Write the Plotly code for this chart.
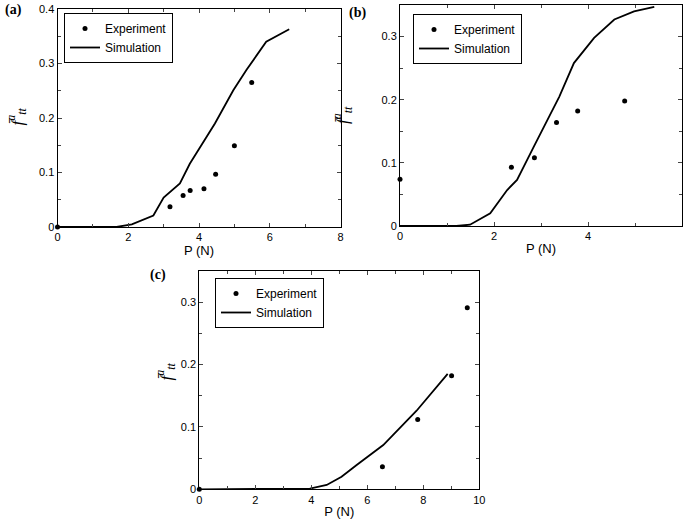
import plotly.graph_objects as go

# Panel (a)
a_exp_x = [0, 3.18, 3.55, 3.75, 4.14, 4.47, 5.0, 5.49]
a_exp_y = [0, 0.037, 0.058, 0.067, 0.070, 0.097, 0.149, 0.265]
a_sim_x = [0, 1.67, 2.1, 2.71, 3.0, 3.46, 3.74, 4.03, 4.45, 4.97, 5.34, 5.9, 6.55]
a_sim_y = [0, 0.0, 0.005, 0.021, 0.054, 0.080, 0.116, 0.147, 0.190, 0.251, 0.288, 0.340, 0.363]

# Panel (b)
b_exp_x = [0, 2.37, 2.86, 3.33, 3.78, 4.78]
b_exp_y = [0.074, 0.093, 0.108, 0.164, 0.182, 0.198]
b_sim_x = [0, 1.2, 1.49, 1.92, 2.28, 2.49, 2.85, 3.13, 3.39, 3.70, 4.13, 4.56, 4.98, 5.41]
b_sim_y = [0, 0.0, 0.002, 0.020, 0.057, 0.073, 0.126, 0.168, 0.205, 0.258, 0.298, 0.327, 0.340, 0.347]

# Panel (c)
c_exp_x = [0, 6.54, 7.8, 9.01, 9.57]
c_exp_y = [0, 0.036, 0.112, 0.182, 0.291]
c_sim_x = [0, 3.95, 4.55, 5.08, 5.62, 6.57, 7.76, 8.36, 8.87]
c_sim_y = [0, 0.001, 0.007, 0.020, 0.039, 0.071, 0.126, 0.157, 0.185]

fig = go.Figure()

panels = [
    ("x", "y", "legend", a_exp_x, a_exp_y, a_sim_x, a_sim_y),
    ("x2", "y2", "legend2", b_exp_x, b_exp_y, b_sim_x, b_sim_y),
    ("x3", "y3", "legend3", c_exp_x, c_exp_y, c_sim_x, c_sim_y),
]
for xa, ya, lg, ex, ey, sx, sy in panels:
    fig.add_trace(go.Scatter(x=ex, y=ey, mode="markers", name="Experiment",
                             marker=dict(color="black", size=5),
                             xaxis=xa, yaxis=ya, legend=lg, cliponaxis=False))
    fig.add_trace(go.Scatter(x=sx, y=sy, mode="lines", name="Simulation",
                             line=dict(color="black", width=1.8),
                             xaxis=xa, yaxis=ya, legend=lg))

W, H = 685, 519
font = dict(family="Liberation Sans, Arial, sans-serif", size=11, color="black")

def xax(domain, rng, anchor):
    return dict(domain=domain, range=rng, anchor=anchor, dtick=2, ticks="inside",
                ticklen=4, mirror="ticks", showline=True, linecolor="black", linewidth=1,
                showgrid=False, zeroline=False, tickfont=font, automargin=False,
                minor=dict(dtick=1, ticks="inside", ticklen=3),
                title=dict(text="P (N)", font=dict(family=font["family"], size=13), standoff=2))

def yax(domain, rng, anchor):
    return dict(domain=domain, range=rng, anchor=anchor, dtick=0.1, ticks="inside",
                ticklen=4, mirror="ticks", showline=True, linecolor="black", linewidth=1,
                showgrid=False, zeroline=False, tickfont=font, automargin=False,
                minor=dict(dtick=0.05, ticks="inside", ticklen=3), tickformat="~g")

def legend(x0, y0):
    return dict(x=x0 / W, y=1 - y0 / H, xanchor="left", yanchor="top",
                bordercolor="black", borderwidth=1, bgcolor="white",
                font=dict(family=font["family"], size=12, color="black"),
                tracegroupgap=0, itemwidth=30)

fig.update_layout(
    width=W, height=H, margin=dict(l=0, r=0, t=0, b=0, autoexpand=False),
    plot_bgcolor="white", paper_bgcolor="white", font=font,
    xaxis=xax([57.5 / W, 340.5 / W], [0, 8], "y"),
    yaxis=yax([1 - 227 / H, 1 - 9 / H], [0, 0.4], "x"),
    xaxis2=xax([400 / W, 682 / W], [0, 6], "y2"),
    yaxis2=yax([1 - 226 / H, 1 - 5 / H], [0, 0.35], "x2"),
    xaxis3=xax([199.3 / W, 479.3 / W], [0, 10], "y3"),
    yaxis3=yax([1 - 489.3 / H, 1 - 271 / H], [0, 0.35], "x3"),
    legend=legend(64, 13),
    legend2=legend(413, 14),
    legend3=legend(215, 278),
)

ylab = "<i>f̄</i><sup><i>a</i></sup><sub><i>tt</i></sub>"
for (px, py) in [(3, 106), (342, 104), (151, 383)]:
    fig.add_annotation(x=px / W, y=1 - py / H, xref="paper", yref="paper", text=ylab,
                       textangle=-90, showarrow=False,
                       font=dict(family="Liberation Serif, Times New Roman, serif", size=17))

for (px, py, t) in [(3, 10, "(a)"), (347, 13, "(b)"), (148, 275, "(c)")]:
    fig.add_annotation(x=px / W, y=1 - py / H, xref="paper", yref="paper", text="<b>" + t + "</b>",
                       xanchor="left", yanchor="middle", showarrow=False,
                       font=dict(family="Liberation Serif, Times New Roman, serif", size=14))

fig.write_html("out.html", config={"displayModeBar": False},
               post_script="document.body.style.margin='0';document.body.style.overflow='hidden';")
